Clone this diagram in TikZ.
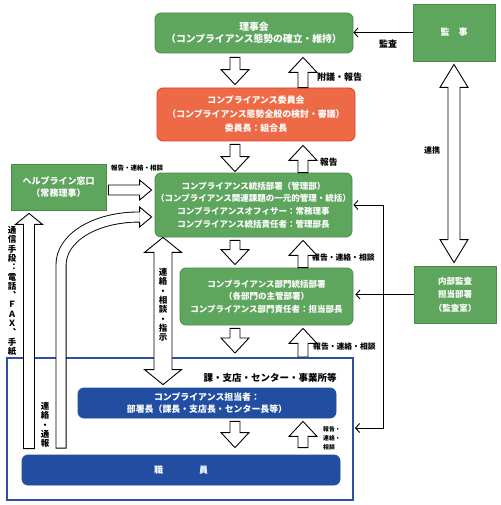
\documentclass[tikz,border=0pt]{standalone}
\usepackage{fontspec}
\newfontfamily\jp{Noto Sans CJK JP}
\usetikzlibrary{calc,arrows.meta}
\definecolor{midori}{RGB}{94,165,94}
\definecolor{midoriline}{RGB}{72,140,72}
\definecolor{daidai}{RGB}{238,106,70}
\definecolor{daidailine}{RGB}{224,62,42}
\definecolor{ao}{RGB}{33,78,160}
\definecolor{aoline}{RGB}{46,80,162}
\newcommand{\jpsize}[2]{\jp\bfseries\fontsize{#1}{#2}\selectfont}

\begin{document}
\begin{tikzpicture}[x=1pt,y=-1pt,
	box/.style={draw=midoriline,fill=midori,text=white,align=center,inner sep=0pt,line width=0.8pt},
	kadobox/.style={box,rounded corners=6pt},
	akabox/.style={kadobox,draw=daidailine,fill=daidai},
	aobox/.style={kadobox,draw=ao,fill=ao},
	waku/.style={draw=aoline,line width=2pt,fill=white,inner sep=0pt},
	lab/.style={font=\jp\bfseries\fontsize{#1}{#1}\selectfont,inner sep=0pt},
	tate/.style={align=center,inner sep=0pt,font=\jp\bfseries\fontsize{8.5}{9.3}\selectfont},
	sen/.style={line width=0.9pt,-{Straight Barb[length=4pt,width=9pt]}},
	blockarrow/.style n args={3}{draw,fill=white,line width=0.9pt,
		to path={let \p1=(\tikztostart), \p2=(\tikztotarget) in
			let \p3=($(\p2)!#3!(\p1)$) in
			($(\p1)!#1!90:(\p2)$) -- ($(\p3)!#1!90:(\p2)$) -- ($(\p3)!#2!90:(\p2)$) -- (\p2)
			-- ($(\p3)!#2!-90:(\p2)$) -- ($(\p3)!#1!-90:(\p2)$) -- ($(\p1)!#1!-90:(\p2)$) -- cycle}},
	blockdarrow/.style n args={3}{draw,fill=white,line width=0.9pt,
		to path={let \p1=(\tikztostart), \p2=(\tikztotarget) in
			let \p3=($(\p2)!#3!(\p1)$), \p4=($(\p1)!#3!(\p2)$) in
			(\p1) -- ($(\p4)!#2!90:(\p2)$) -- ($(\p4)!#1!90:(\p2)$) -- ($(\p3)!#1!90:(\p2)$) -- ($(\p3)!#2!90:(\p2)$) -- (\p2)
			-- ($(\p3)!#2!-90:(\p2)$) -- ($(\p3)!#1!-90:(\p2)$) -- ($(\p4)!#1!-90:(\p2)$) -- ($(\p4)!#2!-90:(\p2)$) -- cycle}},
	varrow/.style={blockarrow={5pt}{14pt}{15pt}},
	harrow/.style={blockarrow={5pt}{10pt}{12pt}},
	larrow/.style={blockarrow={5.5pt}{13.5pt}{11pt}},
	shijiarrow/.style={blockdarrow={9pt}{18.5pt}{15pt}},
	renkeiarrow/.style={blockdarrow={6pt}{14pt}{23pt}}]
	\useasboundingbox (0,0) rectangle (500,505);
	% boxes
	\node[kadobox,minimum width=198pt,minimum height=40pt,font=\jpsize{9.8}{12.5}] (riji) at (254,33)
		{理事会\\（コンプライアンス態勢の確立・維持）};
	\node[box,minimum width=82pt,minimum height=57pt,font=\jpsize{9}{12}] (kanji) at (454,32.5) {監　事};
	\node[akabox,minimum width=198pt,minimum height=53pt,font=\jpsize{8.9}{14}] (iin) at (256,114.5)
		{コンプライアンス委員会\\（コンプライアンス態勢全般の検討・審議）\\委員長：組合長};
	\node[box,minimum width=95pt,minimum height=46pt,font=\jpsize{9}{12.5}] (help) at (58.5,187)
		{ヘルプライン窓口\\（常務理事）};
	\node[kadobox,minimum width=197pt,minimum height=64pt,font=\jpsize{8.5}{12.7}] (hon) at (253.5,205)
		{コンプライアンス統括部署（管理部）\\（コンプライアンス関連課題の一元的管理・統括）\\コンプライアンスオフィサー：常務理事\\コンプライアンス統括責任者：管理部長};
	\node[kadobox,minimum width=173pt,minimum height=57pt,font=\jpsize{8.5}{12.5}] (bumon) at (266.5,296.5)
		{コンプライアンス部門統括部署\\（各部門の主管部署）\\コンプライアンス部門責任者：担当部長};
	\node[box,minimum width=82pt,minimum height=57pt,font=\jpsize{8.5}{13.5}] (naibu) at (455,294.5)
		{内部監査\\担当部署\\（監査室）};
	\node[waku,minimum width=346pt,minimum height=142pt] (waku) at (180,429) {};
	\node[aobox,minimum width=258pt,minimum height=30pt,font=\jpsize{8.9}{12}] (tanto) at (207,403)
		{コンプライアンス担当者：\\部署長（課長・支店長・センター長等）};
	\node[aobox,minimum width=318pt,minimum height=30pt,font=\jpsize{9}{12}] (shokuin) at (181,470)
		{職\hspace{36pt}員};
	% labels
	\node[lab=9] (kansa) at (388,44) {監査};
	\node[lab=9,anchor=west] (fugi) at (317,77) {附議・報告};
	\node[lab=8.7,anchor=west] (hokoku) at (320,162) {報告};
	\node[lab=6.5] (hokokuhelp) at (137,168) {報告・連絡・相談};
	\node[lab=7.8,anchor=west] (hokokuhon) at (312,258) {報告・連絡・相談};
	\node[lab=7.8,anchor=west] (hokokubumon) at (313,347) {報告・連絡・相談};
	\node[lab=5.8,anchor=west,align=left,font=\jp\bfseries\fontsize{5.8}{9}\selectfont] (hokokutanto) at (323,438)
		{報告・\\連絡・\\相談};
	\node[lab=8] (renkei) at (432,150) {連携};
	\node[lab=9.5] (ka) at (270,378) {課・支店・センター・事業所等};
	\node[tate] (tsushin) at (12,291) {通\\信\\手\\段\\︓\\電\\話\\︑\\Ｆ\\Ａ\\Ｘ\\︑\\手\\紙};
	\node[tate] (tsuho) at (45,425) {連\\絡\\・\\通\\報};
	% columns
	\coordinate (dn) at (235,0);
	\coordinate (up) at (303,0);
	\coordinate (hidari) at (29,0);
	\coordinate (kyokusen) at (61,0);
	\coordinate (shiji) at (163,0);
	\coordinate (migi) at (383,0);
	% hollow arrows
	\draw[varrow] ($(riji.south -| dn)+(0,4)$) to ($(iin.north -| dn)+(0,-3)$);
	\draw[varrow] (iin.north -| up) to ($(riji.south -| up)+(0,4)$);
	\draw[varrow] ($(iin.south -| dn)+(0,3)$) to ($(hon.north -| dn)+(0,-1)$);
	\draw[varrow] (hon.north -| up) to ($(iin.south -| up)+(0,4)$);
	\draw[varrow] ($(hon.south -| dn)+(0,3)$) to ($(bumon.north -| dn)+(0,-3)$);
	\draw[varrow] (bumon.north -| up) to ($(hon.south -| up)+(0,3)$);
	\draw[varrow] ($(bumon.south -| dn)+(0,3)$) to ($(waku.north -| dn)+(0,-4)$);
	\draw[varrow] (waku.north -| up) to ($(bumon.south -| up)+(0,3)$);
	\draw[varrow] ($(tanto.south -| dn)+(0,3)$) to ($(shokuin.north -| dn)+(0,-7)$);
	\draw[varrow] ($(shokuin.north -| up)+(0,-7)$) to ($(tanto.south -| up)+(0,3)$);
	\draw[harrow] ($(help.east)+(2,3)$) to ($(help.east -| hon.west)+(-3,3)$);
	\draw[larrow] ($(shokuin.north -| hidari)+(0,-6)$) to ($(help.south -| hidari)+(0,3)$);
	\draw[renkeiarrow] ($(kanji.south)+(0,3)$) to ($(naibu.north -| kanji.south)+(0,-3)$);
	\draw[shijiarrow] (hon.south -| shiji) to ($(tanto.north -| shiji)+(0,-3)$);
	\node[tate] (shijilab) at (163,305) {連\\絡\\・\\相\\談\\・\\指\\示};
	% curved arrow
	\coordinate (cs) at ($(shokuin.north -| kyokusen)+(0,-6)$);
	\coordinate (ce) at ($(hon.west)+(-3,12)$);
	\draw[line width=11pt] (cs) -- ($(cs |- ce)+(0,48)$) .. controls ($(cs |- ce)+(0,21)$) and ($(ce)+(-57,0)$) .. ($(ce)+(-12,0)$);
	\draw[line width=9.2pt,white] ($(cs)+(0,-0.9)$) -- ($(cs |- ce)+(0,48)$) .. controls ($(cs |- ce)+(0,21)$) and ($(ce)+(-57,0)$) .. ($(ce)+(-12,0)$);
	\draw[fill=white,line width=0.9pt] ($(ce)+(-12,-5)$) -- ++(0,-5) -- (ce) -- ($(ce)+(-12,10)$) -- ++(0,-5);
	% lines
	\draw[sen] (kanji.west) -- (kanji.west -| riji.east);
	\draw[sen,shorten >=2pt] (naibu.west) -- (naibu.west -| bumon.east);
	\draw[sen,{Straight Barb[length=4pt,width=9pt]}-{Straight Barb[length=4pt,width=9pt]},shorten <=1pt,shorten >=1pt]
		(hon.east) -- (hon.east -| migi) -- ($(waku.east -| migi)+(0,-1)$) -- ($(waku.east)+(0,-1)$);
\end{tikzpicture}
\end{document}
